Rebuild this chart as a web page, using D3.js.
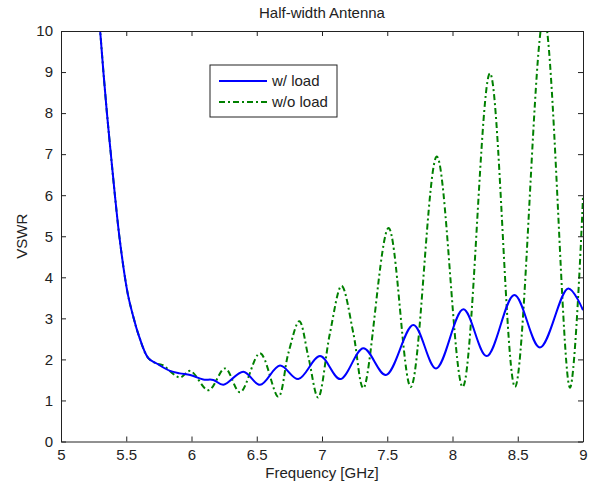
<!DOCTYPE html>
<html>
<head>
<meta charset="utf-8">
<script src="https://cdnjs.cloudflare.com/ajax/libs/d3/7.8.5/d3.min.js"></script>
<style>
  body { margin: 0; background: #fff; }
  text { font-family: Arial, "Liberation Sans", sans-serif; fill: #222; }
</style>
</head>
<body>
<div id="chart"></div>
<script>
// values (GHz, VSWR)
var freqLoad = [5.285, 5.30, 5.325, 5.352, 5.382, 5.413, 5.447, 5.49, 5.516, 5.554, 5.59, 5.669, 5.733, 5.835, 5.91, 5.99, 6.09, 6.167, 6.244, 6.397, 6.525, 6.678, 6.818, 6.985, 7.14, 7.317, 7.49, 7.70, 7.874, 8.083, 8.262, 8.474, 8.67, 8.887, 9.0];
var vswrLoad = [10.5, 10, 9, 8, 7, 6, 5, 4.0, 3.53, 3.04, 2.64, 2.03, 1.90, 1.72, 1.66, 1.62, 1.51, 1.50, 1.38, 1.70, 1.38, 1.85, 1.52, 2.08, 1.52, 2.27, 1.62, 2.84, 1.78, 3.22, 2.08, 3.57, 2.29, 3.73, 3.2];

var freqNoLoad = [5.285, 5.30, 5.325, 5.352, 5.382, 5.413, 5.447, 5.49, 5.516, 5.554, 5.59, 5.669, 5.733, 5.78, 5.91, 5.99, 6.13, 6.257, 6.372, 6.525, 6.665, 6.742, 6.826, 6.895, 6.97, 7.061, 7.15, 7.24, 7.317, 7.51, 7.68, 7.88, 8.078, 8.287, 8.479, 8.70, 8.90, 9.0];
var vswrNoLoad = [10.5, 10, 9, 8, 7, 6, 5, 4.0, 3.53, 3.04, 2.64, 2.03, 1.90, 1.86, 1.56, 1.72, 1.25, 1.78, 1.20, 2.15, 1.09, 2.15, 2.93, 2.07, 1.07, 2.64, 3.79, 2.64, 1.30, 5.2, 1.33, 6.94, 1.33, 8.97, 1.33, 10.35, 1.31, 5.96];

var xTicks = [5, 5.5, 6, 6.5, 7, 7.5, 8, 8.5, 9];
var yTicks = [0, 1, 2, 3, 4, 5, 6, 7, 8, 9, 10];
var seriesNames = ["w/ load", "w/o load"];

var W = 597, H = 486;
var margin = {left: 61, right: 14, top: 31, bottom: 44.5};
var width = W - margin.left - margin.right;
var height = H - margin.top - margin.bottom;

var svg = d3.select("#chart").append("svg")
    .attr("width", W)
    .attr("height", H);

var x = d3.scaleLinear().domain([5, 9]).range([0, width]);
var y = d3.scaleLinear().domain([0, 10]).range([height, 0]);

var g = svg.append("g")
    .attr("transform", "translate(" + margin.left + "," + margin.top + ")");

svg.append("defs").append("clipPath").attr("id", "clip")
  .append("rect").attr("x", 0).attr("y", 0).attr("width", width).attr("height", height);

function toPts(xs, ys) {
  return xs.map(function(d, i) { return {f: d, v: ys[i]}; });
}

var line = d3.line()
    .x(function(d) { return x(d.f); })
    .y(function(d) { return y(d.v); })
    .curve(d3.curveCatmullRom.alpha(0.5));

var plot = g.append("g").attr("clip-path", "url(#clip)");

plot.append("path")
    .datum(toPts(freqNoLoad, vswrNoLoad))
    .attr("fill", "none")
    .attr("stroke", "#008000")
    .attr("stroke-width", 2)
    .attr("stroke-dasharray", "6,3,2,3")
    .attr("d", line);

plot.append("path")
    .datum(toPts(freqLoad, vswrLoad))
    .attr("fill", "none")
    .attr("stroke", "#0000ff")
    .attr("stroke-width", 2)
    .attr("d", line);

// axes, matlab style: ticks inside on all four sides
var tickLen = 5;
var xAxis = g.append("g")
    .attr("transform", "translate(0," + height + ")")
    .call(d3.axisBottom(x).tickValues(xTicks).tickSizeInner(-tickLen).tickSizeOuter(0).tickPadding(8).tickFormat(d3.format("")));
var xAxisTop = g.append("g")
    .call(d3.axisTop(x).tickValues(xTicks).tickSizeInner(-tickLen).tickSizeOuter(0).tickFormat(""));
var yAxis = g.append("g")
    .call(d3.axisLeft(y).tickValues(yTicks).tickSizeInner(-tickLen).tickSizeOuter(0).tickPadding(8));
var yAxisRight = g.append("g")
    .attr("transform", "translate(" + width + ",0)")
    .call(d3.axisRight(y).tickValues(yTicks).tickSizeInner(-tickLen).tickSizeOuter(0).tickFormat(""));

[xAxis, xAxisTop, yAxis, yAxisRight].forEach(function(a) {
  a.select(".domain").attr("stroke", "#222");
  a.selectAll(".tick line").attr("stroke", "#222");
  a.selectAll(".tick text").attr("font-size", 15).attr("fill", "#222")
    .style("font-family", "Arial, 'Liberation Sans', sans-serif");
});

// title and labels
svg.append("text")
    .attr("x", margin.left + width / 2)
    .attr("y", 18)
    .attr("text-anchor", "middle")
    .attr("font-size", 15)
    .text("Half-width Antenna");

svg.append("text")
    .attr("x", margin.left + width / 2)
    .attr("y", 478)
    .attr("text-anchor", "middle")
    .attr("font-size", 15)
    .text("Frequency [GHz]");

svg.append("text")
    .attr("transform", "translate(27," + (margin.top + height / 2) + ") rotate(-90)")
    .attr("text-anchor", "middle")
    .attr("font-size", 15)
    .text("VSWR");

// legend
var legend = svg.append("g").attr("transform", "translate(210,65)");
legend.append("rect")
    .attr("width", 127).attr("height", 52)
    .attr("fill", "#fff").attr("stroke", "#222");
var legStyles = [
  {color: "#0000ff", dash: null},
  {color: "#008000", dash: "6,3,2,3"}
];
seriesNames.forEach(function(name, i) {
  var yy = 16 + i * 21;
  legend.append("line")
      .attr("x1", 9).attr("x2", 57).attr("y1", yy).attr("y2", yy)
      .attr("stroke", legStyles[i].color)
      .attr("stroke-width", 2)
      .attr("stroke-dasharray", legStyles[i].dash);
  legend.append("text")
      .attr("x", 62).attr("y", yy + 5)
      .attr("font-size", 15)
      .text(name);
});
</script>
</body>
</html>
